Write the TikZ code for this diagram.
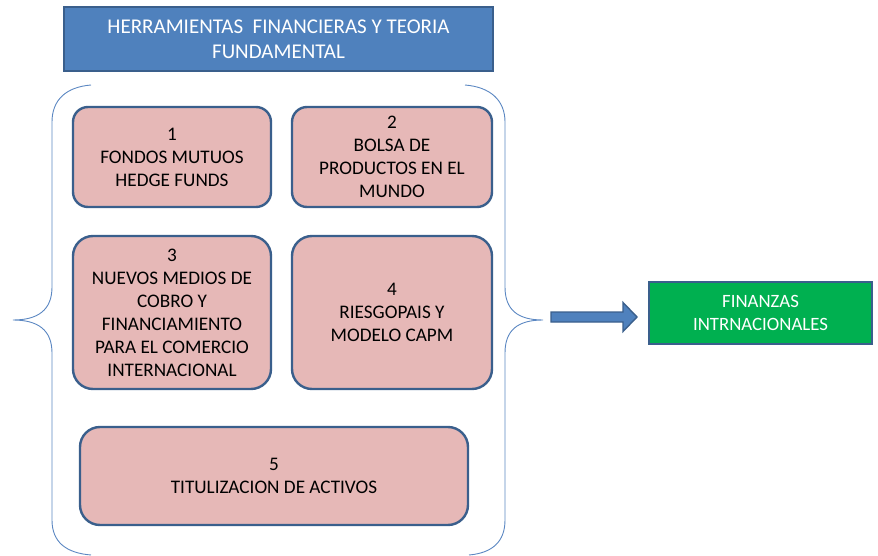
\documentclass[tikz,border=0pt]{standalone}
\usepackage{fontspec}
\setmainfont{Carlito}
\usepackage{xcolor}
\usepackage{tikz}
\usetikzlibrary{calc, positioning}

\definecolor{titleblue}{HTML}{4F81BD}
\definecolor{edgeblue}{HTML}{3A5F8C}
\definecolor{bracketblue}{HTML}{5B87C2}
\definecolor{rosefill}{HTML}{E6B8B7}
\definecolor{greenfill}{HTML}{00B050}

\tikzset{
	titlebox/.style = {draw=edgeblue, fill=titleblue, line width=1.6pt, text=white, align=center, font=\fontsize{21}{25}\selectfont},
	topicbox/.style = {draw=edgeblue, fill=rosefill, line width=2.4pt, rounded corners=15pt, align=center, font=\fontsize{19.2}{23}\selectfont},
	goalbox/.style = {draw=edgeblue, fill=greenfill, line width=1.6pt, text=white, align=center, font=\fontsize{18.8}{23}\selectfont},
	bracket/.style = {draw=bracketblue, line width=0.9pt},
	blockarrow/.style = {draw=edgeblue, fill=titleblue, line width=1.4pt, line join=miter}
}

\begin{document}
\begin{tikzpicture}[x=1pt, y=-1pt]
		\useasboundingbox (0,0) rectangle (878,556);
		
		\def\bl{52};
		\def\br{505};
		
		\node [titlebox, minimum width=429, minimum height=64] (title) at (278.5,39) {HERRAMIENTAS\ \ FINANCIERAS Y TEORIA\\FUNDAMENTAL};
		
		\draw [bracket] (91,85) .. controls (66,87) and (\bl,100) .. (\bl,122) -- (\bl,287) .. controls (\bl,310) and (38,320) .. (13,320) .. controls (38,320) and (\bl,330) .. (\bl,353) -- (\bl,520) .. controls (\bl,542) and (66,553) .. (91,555);
		\draw [bracket] (465,85) .. controls (490,87) and (\br,100) .. (\br,122) -- (\br,287) .. controls (\br,310) and (518,320) .. (543,320) .. controls (518,320) and (\br,330) .. (\br,353) -- (\br,520) .. controls (\br,542) and (492,553) .. (469,555);
		
		\begin{scope}[every node/.style={topicbox}]
			\node [minimum width=198, minimum height=100] (fondos) at (172,157) {1\\FONDOS MUTUOS\\HEDGE FUNDS};
			\node [minimum width=200, minimum height=100] (bolsa) at (392,157) {2\\BOLSA DE\\PRODUCTOS EN EL\\MUNDO};
			\node [minimum width=198, minimum height=153, rounded corners=20pt] (cobro) at (172,312.5) {3\\NUEVOS MEDIOS DE\\COBRO Y\\FINANCIAMIENTO\\PARA EL COMERCIO\\INTERNACIONAL};
			\node [minimum width=200, minimum height=153, rounded corners=20pt] (riesgo) at (392,312.5) {4\\RIESGOPAIS Y\\MODELO CAPM};
			\node [minimum width=388, minimum height=98, rounded corners=20pt] (titulos) at (274,476) {5\\TITULIZACION DE ACTIVOS};
		\end{scope}
		
		\node [goalbox, minimum width=223, minimum height=62] (finanzas) at (760.5,313) {FINANZAS\\INTRNACIONALES};
		
		\coordinate (arrow tail) at (551,317);
		\coordinate (arrow tip) at (637,317);
		\draw [blockarrow] ($ (arrow tail) + (0,-5) $) -- ($ (arrow tip) + (-14,-5) $) -- ($ (arrow tip) + (-14,-14.5) $) -- (arrow tip) -- ($ (arrow tip) + (-14,14.5) $) -- ($ (arrow tip) + (-14,5) $) -- ($ (arrow tail) + (0,5) $) -- cycle;
	\end{tikzpicture}
\end{document}
